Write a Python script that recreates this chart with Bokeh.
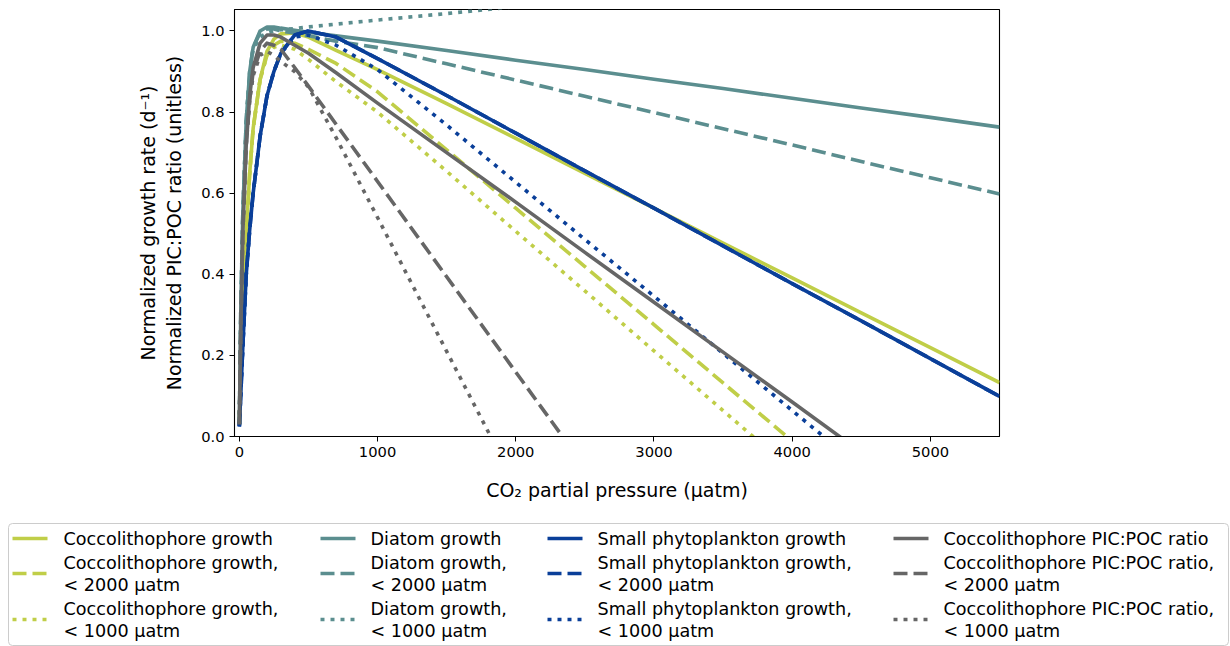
from bokeh.plotting import figure
from bokeh.models import Range1d, FixedTicker
from bokeh.layouts import column
from bokeh.embed import file_html
from bokeh.resources import INLINE
from bokeh.core.properties import value

# ---------------- data ----------------
pco2 = [0, 10, 25, 50, 75, 100, 150, 200, 250, 300, 400, 500, 700, 1000,
        1500, 2000, 2500, 3000, 3500, 4000, 4500, 5000, 5500]

cocco_growth = [0.03, 0.15, 0.33, 0.50, 0.65, 0.76, 0.88, 0.95, 0.98, 0.993, 0.995, 0.985,
                0.952, 0.905, 0.821, 0.735, 0.649, 0.563, 0.477, 0.391, 0.305, 0.219, 0.133]
cocco_growth_2000 = [0.03, 0.15, 0.33, 0.50, 0.65, 0.76, 0.88, 0.94, 0.965, 0.975, 0.97, 0.955,
                     0.92, 0.85, 0.707, 0.563, 0.419, 0.276, 0.132, -0.011]
cocco_growth_1000 = [0.03, 0.15, 0.33, 0.50, 0.65, 0.76, 0.88, 0.94, 0.96, 0.965, 0.955, 0.93,
                     0.875, 0.80, 0.654, 0.506, 0.359, 0.211, 0.064, -0.084]

diatom_growth = [0.03, 0.30, 0.55, 0.78, 0.90, 0.96, 1.0, 1.01, 1.01, 1.007, 1.002, 0.997,
                 0.988, 0.975, 0.952, 0.928, 0.905, 0.881, 0.858, 0.834, 0.81, 0.787, 0.763]
diatom_growth_2000 = [0.03, 0.30, 0.55, 0.78, 0.90, 0.96, 0.995, 1.005, 1.005, 1.0, 0.995, 0.988,
                      0.975, 0.959, 0.919, 0.879, 0.839, 0.799, 0.759, 0.719, 0.678, 0.638, 0.598]
diatom_growth_1000 = [0.03, 0.30, 0.55, 0.78, 0.90, 0.955, 0.985, 0.995, 1.0, 1.003, 1.006, 1.01,
                      1.017, 1.027, 1.043, 1.06, 1.077, 1.094, 1.111, 1.128, 1.144, 1.161, 1.178]

small_growth = [0.025, 0.10, 0.22, 0.40, 0.51, 0.60, 0.74, 0.84, 0.90, 0.945, 0.99, 1.0,
                0.985, 0.932, 0.841, 0.748, 0.655, 0.563, 0.47, 0.377, 0.285, 0.192, 0.099]
small_growth_2000 = [0.025, 0.10, 0.22, 0.40, 0.51, 0.60, 0.74, 0.84, 0.90, 0.945, 0.99, 1.0,
                     0.985, 0.932, 0.841, 0.748, 0.655, 0.563, 0.47, 0.377, 0.285, 0.192, 0.099]
small_growth_1000 = [0.025, 0.10, 0.22, 0.40, 0.51, 0.60, 0.74, 0.84, 0.90, 0.945, 0.985, 0.99,
                     0.965, 0.905, 0.768, 0.627, 0.486, 0.346, 0.205, 0.064, -0.077]

picpoc = [0.03, 0.25, 0.50, 0.72, 0.84, 0.91, 0.97, 0.99, 0.99, 0.985, 0.965, 0.945,
          0.897, 0.822, 0.70, 0.578, 0.454, 0.331, 0.208, 0.085, -0.039]
picpoc_2000 = [0.03, 0.25, 0.50, 0.72, 0.83, 0.90, 0.95, 0.97, 0.965, 0.955, 0.91, 0.864,
               0.77, 0.629, 0.394, 0.159, -0.076]
picpoc_1000 = [0.03, 0.25, 0.50, 0.72, 0.83, 0.89, 0.94, 0.95, 0.94, 0.925, 0.90, 0.862,
               0.737, 0.54, 0.21, -0.12]

labels = [
    "Coccolithophore growth",
    "Coccolithophore growth,\n< 2000 \u03bcatm",
    "Coccolithophore growth,\n< 1000 \u03bcatm",
    "Diatom growth",
    "Diatom growth,\n< 2000 \u03bcatm",
    "Diatom growth,\n< 1000 \u03bcatm",
    "Small phytoplankton growth",
    "Small phytoplankton growth,\n< 2000 \u03bcatm",
    "Small phytoplankton growth,\n< 1000 \u03bcatm",
    "Coccolithophore PIC:POC ratio",
    "Coccolithophore PIC:POC ratio,\n< 2000 \u03bcatm",
    "Coccolithophore PIC:POC ratio,\n< 1000 \u03bcatm",
]
series_values = [cocco_growth, cocco_growth_2000, cocco_growth_1000,
                 diatom_growth, diatom_growth_2000, diatom_growth_1000,
                 small_growth, small_growth_2000, small_growth_1000,
                 picpoc, picpoc_2000, picpoc_1000]

x_ticks = [0, 1000, 2000, 3000, 4000, 5000]
y_ticks = [0.0, 0.2, 0.4, 0.6, 0.8, 1.0]
y_tick_labels = ["0.0", "0.2", "0.4", "0.6", "0.8", "1.0"]

# ---------------- style ----------------
C_COCCO = "#c0ce48"
C_DIATOM = "#5b8e8f"
C_SMALL = "#0a3f99"
C_PIC = "#666666"
colors = [C_COCCO] * 3 + [C_DIATOM] * 3 + [C_SMALL] * 3 + [C_PIC] * 3
dashes = ["solid", "14 6", "4 6"] * 4
LW = 3.6
FONT = "DejaVu Sans"

p = figure(width=1230, height=518, x_range=Range1d(-35, 5500), y_range=Range1d(0, 1.053),
           output_backend="svg", toolbar_location=None,
           min_border_left=234, min_border_right=231, min_border_top=9, min_border_bottom=82)
p.frame_align = False
p.grid.visible = False
p.outline_line_color = "black"
p.outline_line_width = 1.1
p.background_fill_color = "white"
p.border_fill_color = "white"

for yv, col, dash in zip(series_values, colors, dashes):
    xs = pco2[:len(yv)]
    p.line(xs, yv, line_color=col, line_width=LW, line_dash=dash,
           line_cap="butt", line_join="round")

p.xaxis.ticker = FixedTicker(ticks=x_ticks)
p.yaxis.ticker = FixedTicker(ticks=y_ticks)
p.yaxis.major_label_overrides = {t: l for t, l in zip(y_ticks, y_tick_labels)}
p.axis.minor_tick_line_color = None
p.axis.major_tick_in = 0
p.axis.major_tick_out = 5
p.axis.major_tick_line_color = "black"
p.axis.axis_line_color = "black"
p.axis.major_label_standoff = 5
p.axis.major_label_text_font = FONT
p.axis.major_label_text_font_size = "14.7px"
p.axis.major_label_text_color = "black"
p.axis.axis_label_text_font = FONT
p.axis.axis_label_text_font_size = "19px"
p.axis.axis_label_text_font_style = "normal"
p.axis.axis_label_text_color = "black"
p.xaxis.axis_label = "CO\u2082 partial pressure (\u03bcatm)"
p.xaxis.axis_label_standoff = 19
p.yaxis.axis_label = "Normalized growth rate (d\u207b\u00b9)\nNormalized PIC:POC ratio (unitless)"
p.yaxis.axis_label_standoff = 13

# ---------------- legend panel ----------------
lf = figure(width=1230, height=128, x_range=Range1d(0, 1230), y_range=Range1d(128, 0),
            output_backend="svg", toolbar_location=None, min_border=0,
            x_axis_type=None, y_axis_type=None)
lf.frame_align = False
lf.grid.visible = False
lf.outline_line_color = None
lf.border_fill_color = "white"
lf.quad(left=8, right=1228, top=5, bottom=127, fill_color="white",
        line_color="#cccccc", line_width=1, border_radius=4)

col_handle_x = [12, 320, 547, 893]
col_text_x = [63, 370, 597, 943]
row_single_y = [20, 55, 101]
row_line_y = [[20], [44, 66], [90, 112]]
for i, (lab, col, dash) in enumerate(zip(labels, colors, dashes)):
    c, r = divmod(i, 3)
    hx = col_handle_x[c]
    hy = row_single_y[r]
    lf.line([hx, hx + 35], [hy, hy], line_color=col, line_width=LW, line_dash=dash,
            line_cap="butt")
    parts = lab.split("\n")
    ys = row_line_y[r] if len(parts) > 1 else [hy]
    lf.text(x=[col_text_x[c]] * len(parts), y=ys, text=parts,
            text_font=value(FONT), text_font_size=value("17.6px"),
            text_baseline="middle", text_align="left", text_color="black")

layout = column(p, lf)
open("out.html", "w").write(file_html(layout, INLINE))
